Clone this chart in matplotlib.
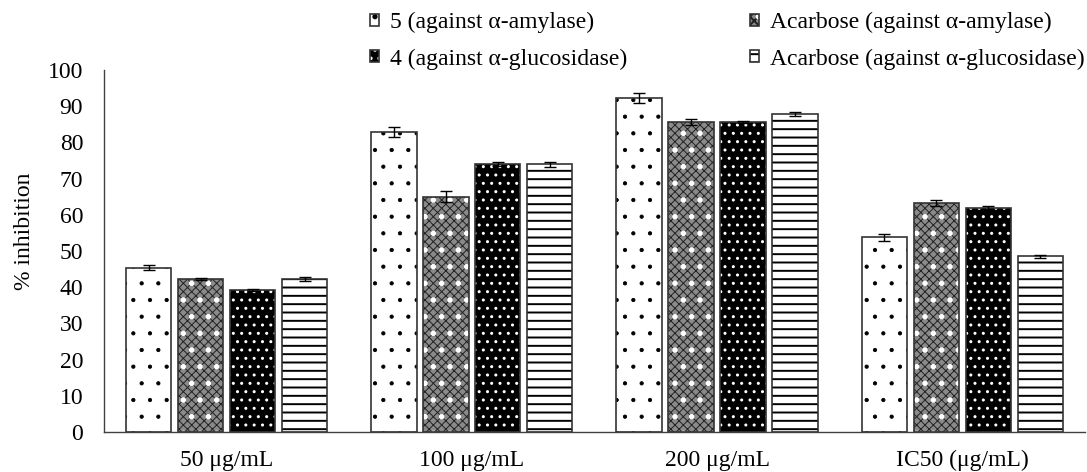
import matplotlib.pyplot as plt
import numpy as np
from matplotlib.legend_handler import HandlerTuple

plt.rcParams['font.family'] = ['Liberation Serif', 'DejaVu Serif']
plt.rcParams['hatch.linewidth'] = 1.0

groups = ['50 μg/mL', '100 μg/mL', '200 μg/mL', 'IC50 (μg/mL)']
series = ['5 (against α-amylase)', 'Acarbose (against α-amylase)',
          '4 (against α-glucosidase)', 'Acarbose (against α-glucosidase)']

# % inhibition
cmp5_amy = [45.4, 82.8, 92.3, 53.8]
acarb_amy = [42.2, 65.0, 85.6, 63.2]
cmp4_glu = [39.2, 74.1, 85.6, 61.9]
acarb_glu = [42.3, 73.9, 87.8, 48.5]

err5_amy = [0.6, 1.4, 1.3, 0.9]
err_acarb_amy = [0.3, 1.5, 0.9, 0.9]
err4_glu = [0.3, 0.5, 0.2, 0.4]
err_acarb_glu = [0.5, 0.8, 0.6, 0.5]

values = [cmp5_amy, acarb_amy, cmp4_glu, acarb_glu]
errors = [err5_amy, err_acarb_amy, err4_glu, err_acarb_glu]

FS = 17

fig = plt.figure(figsize=(10.87, 4.72), dpi=100)
ax = fig.add_axes([0.0957, 0.0847, 0.9023, 0.767])

x = np.arange(len(groups))
width = 0.185
step = 0.212
offsets = (np.arange(4) - 1.5) * step


def hatch_lw(container, lw):
    for p in container.patches:
        if hasattr(p, 'set_hatch_linewidth'):
            p.set_hatch_linewidth(lw)


handles = []
for i in range(4):
    xs = x + offsets[i]
    if i == 0:
        # white with sparse dots
        plt.rcParams['hatch.linewidth'] = 0.6
        b = ax.bar(xs, values[i], width, facecolor='white', edgecolor='black',
                   hatch='.', linewidth=0)
        hatch_lw(b, 0.6)
        b2 = ax.bar(xs, values[i], width, fill=False, edgecolor='#333333',
                    linewidth=1.2)
        h = (b.patches[0], b2.patches[0])
    elif i == 1:
        # grey checker texture with white spots
        plt.rcParams['hatch.linewidth'] = 0.7
        b1 = ax.bar(xs, values[i], width, facecolor='#8a8a8a', edgecolor='#222222',
                    hatch='xxxx', linewidth=0)
        hatch_lw(b1, 0.7)
        plt.rcParams['hatch.linewidth'] = 1.5
        b2 = ax.bar(xs, values[i], width, fill=False, edgecolor='white',
                    hatch='.', linewidth=0)
        hatch_lw(b2, 1.5)
        b3 = ax.bar(xs, values[i], width, fill=False, edgecolor='#333333',
                    linewidth=1.2)
        h = (b1.patches[0], b2.patches[0], b3.patches[0])
    elif i == 2:
        # black with white dots
        plt.rcParams['hatch.linewidth'] = 1.0
        b1 = ax.bar(xs, values[i], width, facecolor='black', edgecolor='white',
                    hatch='..', linewidth=0)
        hatch_lw(b1, 1.0)
        b2 = ax.bar(xs, values[i], width, fill=False, edgecolor='#333333',
                    linewidth=1.2)
        h = (b1.patches[0], b2.patches[0])
    else:
        # horizontal lines
        plt.rcParams['hatch.linewidth'] = 1.4
        b1 = ax.bar(xs, values[i], width, facecolor='white', edgecolor='black',
                    hatch='--', linewidth=0)
        hatch_lw(b1, 1.4)
        b2 = ax.bar(xs, values[i], width, fill=False, edgecolor='#333333',
                    linewidth=1.2)
        h = (b1.patches[0], b2.patches[0])
    ax.errorbar(xs, values[i], yerr=errors[i], fmt='none', ecolor='black',
                elinewidth=1.0, capsize=4.5, capthick=1.0)
    handles.append(h)

ax.set_xlim(-0.5, 3.5)
ax.set_ylim(0, 100)
ax.set_yticks(np.arange(0, 101, 10))
ax.set_xticks(x)
ax.set_xticklabels(groups)
ax.tick_params(axis='both', length=0, labelsize=FS)
ax.tick_params(axis='y', pad=15)
ax.tick_params(axis='x', pad=13)
ax.set_ylabel('% inhibition', fontsize=FS)
ax.yaxis.set_label_coords(-0.070, 0.555)

for s in ['top', 'right']:
    ax.spines[s].set_visible(False)
for s in ['left', 'bottom']:
    ax.spines[s].set_color('#404040')
    ax.spines[s].set_linewidth(1.0)

order = [0, 2, 1, 3]
fig.legend([handles[k] for k in order], [series[k] for k in order],
           ncol=2, loc='upper left', bbox_to_anchor=(0.340, 0.975),
           frameon=False, fontsize=FS, handlelength=0.4, handleheight=0.4,
           handletextpad=0.45, columnspacing=5.2, labelspacing=0.65,
           borderpad=0, borderaxespad=0,
           handler_map={tuple: HandlerTuple(ndivide=1)})

fig.savefig('out.png', dpi=100)
